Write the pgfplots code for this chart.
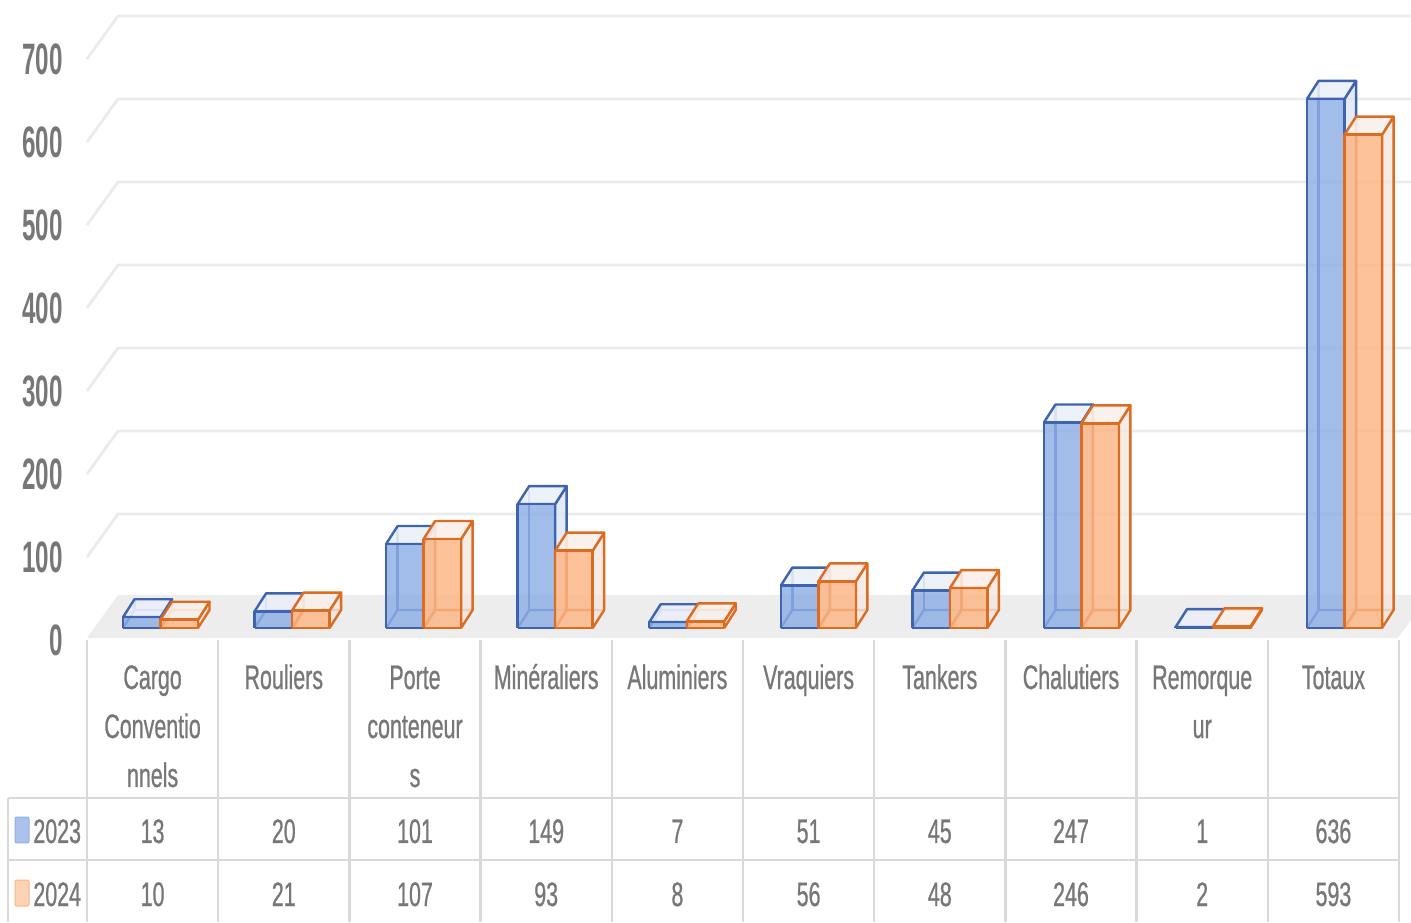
\documentclass[border=0pt]{standalone}
\usepackage{fontspec}
\setmainfont{Liberation Sans}[FakeStretch=0.63, FakeBold=0.7]
\newfontfamily\tickfont{Liberation Sans}[FakeStretch=0.55]
\usepackage{pgfplots}
\usepackage{pgfplotstable}
\pgfplotsset{compat=1.18}
\definecolor{bfront}{HTML}{8FAEE6}
\definecolor{btop}{HTML}{EBEFF7}
\definecolor{bside}{HTML}{DFE6F2}
\definecolor{bedge}{HTML}{3E64B0}
\definecolor{ofront}{HTML}{FCB583}
\definecolor{otop}{HTML}{F9F0EA}
\definecolor{oside}{HTML}{F3E7E1}
\definecolor{oedge}{HTML}{DC6C22}
\definecolor{txt}{HTML}{777777}
\definecolor{gridc}{HTML}{EBEBEB}
\definecolor{floorc}{HTML}{EDEDED}
\definecolor{tabc}{HTML}{D9D9D9}

\pgfplotstableread{
k a b
0 13 10
1 20 21
2 101 107
3 149 93
4 7 8
5 51 56
6 45 48
7 247 246
8 1 2
9 636 593
}\data

% pixel row -> value units
\newcommand\py[1]{{(628-#1)/0.832}}

\newcommand\cuboid[4]{%
 \pgfmathsetmacro\cxa{#1}%
 \pgfmathsetmacro\cxb{#1+37.5}%
 \pgfmathsetmacro\cxc{#1+11.5}%
 \pgfmathsetmacro\cxd{#1+49}%
 \pgfmathsetmacro\cv{#2}%
 \pgfmathsetmacro\cvb{#2+21.6}%
 \edef\doit{%
  \noexpand\addplot[draw=#4,line width=1.2pt,line join=round] coordinates {(\cxa,0) (\cxc,21.6) (\cxd,21.6)};
  \noexpand\addplot[draw=#4,line width=1.2pt] coordinates {(\cxc,21.6) (\cxc,\cvb)};
  \noexpand\addplot[draw=#4,fill=#3side,fill opacity=0.8,line width=1.2pt,line join=round] coordinates {(\cxb,0) (\cxd,21.6) (\cxd,\cvb) (\cxb,\cv) (\cxb,0)};
  \noexpand\addplot[draw=#4,fill=#3top,fill opacity=0.9,line width=1.2pt,line join=round] coordinates {(\cxa,\cv) (\cxc,\cvb) (\cxd,\cvb) (\cxb,\cv) (\cxa,\cv)};
  \noexpand\addplot[draw=#4,fill=#3front,fill opacity=0.82,line width=1.2pt,line join=round] coordinates {(\cxa,0) (\cxb,0) (\cxb,\cv) (\cxa,\cv) (\cxa,0)};
 }\doit}

\begin{document}
\begin{tikzpicture}
\begin{axis}[
  width=705.5pt, height=461pt, scale only axis,
  xmin=0, xmax=1411, ymin=-353.37, ymax=754.81,
  hide axis, clip=false,
]
% floor
\fill[floorc] (axis cs:87,\py{638}) -- (axis cs:1398,\py{638}) -- (axis cs:1411,\py{620}) -- (axis cs:1411,\py{595}) -- (axis cs:118,\py{595}) -- cycle;
% grid lines
\pgfplotsinvokeforeach{1,...,7}{
  \draw[gridc, line width=1.4pt, line join=round] (axis cs:87,{(628-(640-83*#1))/0.832}) -- (axis cs:118,{(628-(597-83*#1))/0.832}) -- (axis cs:1411,{(628-(597-83*#1))/0.832});
}
% y tick labels
\begin{scope}[every node/.style={anchor=east, text=txt, font=\tickfont\bfseries\fontsize{22}{24}\selectfont, inner sep=0pt}]
\node at (axis cs:63,\py{640}) {0};
\node at (axis cs:63,\py{557}) {100};
\node at (axis cs:63,\py{474}) {200};
\node at (axis cs:63,\py{391}) {300};
\node at (axis cs:63,\py{308}) {400};
\node at (axis cs:63,\py{225}) {500};
\node at (axis cs:63,\py{142}) {600};
\node at (axis cs:63,\py{59}) {700};
\end{scope}
% bars
\pgfplotsinvokeforeach{0,...,9}{%
 \pgfplotstablegetelem{#1}{a}\of\data \let\va\pgfplotsretval
 \pgfplotstablegetelem{#1}{b}\of\data \let\vbb\pgfplotsretval
 \pgfmathsetmacro\xa{123+131.56*#1}%
 \pgfmathsetmacro\xo{\xa+37.5}%
 \cuboid{\xa}{\va}{b}{bedge}%
 \cuboid{\xo}{\vbb}{o}{oedge}%
 \pgfmathsetmacro\xc{152.6+131.2*#1}%
 \edef\doit{%
   \noexpand\node[anchor=base, text=txt, font=\noexpand\fontsize{17}{20}\noexpand\selectfont] at (axis cs:\xc,{(628-843)/0.832}) {\va};
   \noexpand\node[anchor=base, text=txt, font=\noexpand\fontsize{17}{20}\noexpand\selectfont] at (axis cs:\xc,{(628-906)/0.832}) {\vbb};
 }\doit
}
% table lines
\pgfplotsinvokeforeach{0,...,10}{
  \draw[tabc, line width=1.25pt] (axis cs:{87+131.2*#1},\py{640}) -- (axis cs:{87+131.2*#1},\py{922});
}
\draw[tabc, line width=1.25pt] (axis cs:8,\py{798}) -- (axis cs:8,\py{922});
\draw[tabc, line width=1.25pt] (axis cs:8,\py{798}) -- (axis cs:1399,\py{798});
\draw[tabc, line width=1.25pt] (axis cs:8,\py{860}) -- (axis cs:1399,\py{860});
% legend keys
\draw[fill=bfront!75!white, draw=bfront, rounded corners=1pt, line width=0.5pt] (axis cs:15,\py{817}) rectangle (axis cs:29,\py{843});
\draw[fill=ofront!60!white, draw=ofront, rounded corners=1pt, line width=0.5pt] (axis cs:15,\py{880}) rectangle (axis cs:29,\py{906});
\begin{scope}[every node/.style={anchor=base, text=txt, font=\fontsize{17}{20}\selectfont, inner sep=0pt}]
\node[anchor=base west] at (axis cs:33,\py{843}) {2023};
\node[anchor=base west] at (axis cs:33,\py{906}) {2024};
% category labels
\node at (axis cs:152.6,\py{689}) {Cargo};
\node at (axis cs:152.6,\py{738}) {Conventio};
\node at (axis cs:152.6,\py{787}) {nnels};
\node at (axis cs:283.8,\py{689}) {Rouliers};
\node at (axis cs:415,\py{689}) {Porte};
\node at (axis cs:415,\py{738}) {conteneur};
\node at (axis cs:415,\py{787}) {s};
\node at (axis cs:546.2,\py{689}) {Minéraliers};
\node at (axis cs:677.4,\py{689}) {Aluminiers};
\node at (axis cs:808.6,\py{689}) {Vraquiers};
\node at (axis cs:939.8,\py{689}) {Tankers};
\node at (axis cs:1071,\py{689}) {Chalutiers};
\node at (axis cs:1202.2,\py{689}) {Remorque};
\node at (axis cs:1202.2,\py{738}) {ur};
\node at (axis cs:1333.4,\py{689}) {Totaux};
\end{scope}
\end{axis}
\pgfresetboundingbox
\path[use as bounding box] (current axis.south west) rectangle (current axis.north east);
\end{tikzpicture}
\end{document}
